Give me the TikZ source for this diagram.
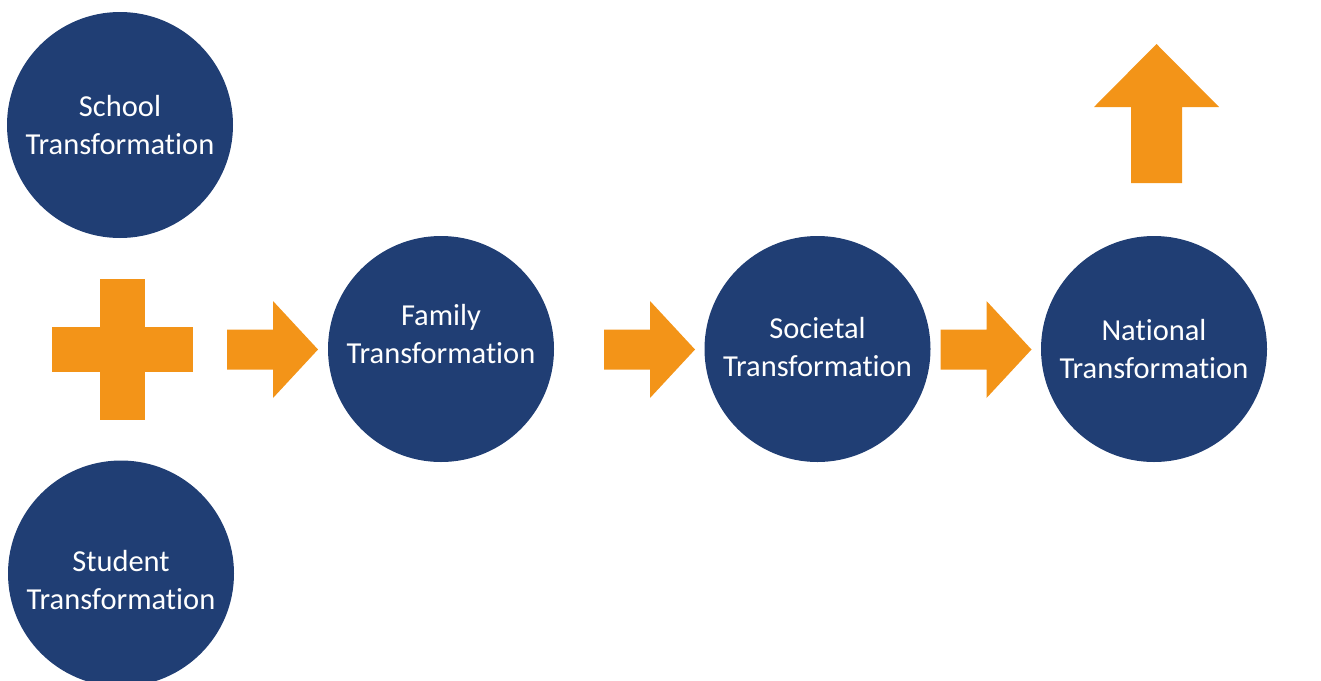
\documentclass[tikz,border=0pt]{standalone}
\usepackage{fontspec}
\setmainfont{Carlito}[Ligatures=NoCommon]
\usepackage{tikz}
\usetikzlibrary{positioning}
\definecolor{bubblecolor}{RGB}{32,62,116}
\definecolor{arrowcolor}{RGB}{243,148,24}

\begin{document}
\begin{tikzpicture}[x=1pt,y=-1pt,node distance=376.5pt]
 \tikzstyle{bubble}=[circle,fill=bubblecolor,minimum size=226pt,inner sep=0pt]
 \tikzstyle{caption}=[text=white,align=center,inner sep=0pt,font={\fontsize{30.5}{38}\selectfont}]
 \tikzstyle{flow}=[fill=arrowcolor]

 \useasboundingbox (0,0) rectangle (1321,680);
 \clip (0,0) rectangle (1321,680);

   \node[bubble] (school) at (120,125) {};
   \node[bubble] (student) at (121,573.5) {};
   \node[bubble] (family) at (441,349) {};
   \node[bubble] (societal) [right of = family] {};
   \node[bubble,node distance=336.5pt] (national) [right of = societal] {};

   \node[caption] (schooltext) at (school) {School\\Transformation};
   \node[caption] (studenttext) at ([yshift=-7pt]student.center) {Student\\Transformation};
   \node[caption] (familytext) at ([yshift=15pt]family.center) {Family\\Transformation};
   \node[caption] (societaltext) at ([yshift=2pt]societal.center) {Societal\\Transformation};
   \node[caption] (nationaltext) at (national) {National\\Transformation};

   % plus sign
   \fill[flow] (52,326.5) rectangle (193,372);
   \fill[flow] (100,279) rectangle (145,420);

   % block arrows
   \foreach \x in {227,604,940.5}
     \fill[flow,shift={(\x,349.5)}] (0,-20) -- (46,-20) -- (46,-48.5) -- (91,0)
        -- (46,48.5) -- (46,20) -- (0,20) -- cycle;
   \fill[flow,shift={(1156.5,183)}] (-25.5,0) -- (-25.5,-76) -- (-62.5,-76) -- (0,-139)
        -- (62.5,-76) -- (25.5,-76) -- (25.5,0) -- cycle;
\end{tikzpicture}
\end{document}
